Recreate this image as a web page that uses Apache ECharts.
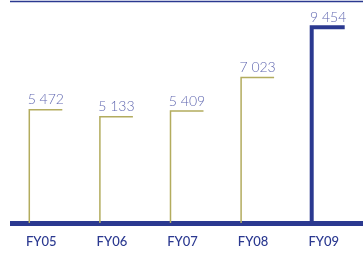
<!DOCTYPE html>
<html><head><meta charset="utf-8">
<script src="https://cdn.jsdelivr.net/npm/echarts@6/dist/echarts.min.js"></script>
<style>html,body{margin:0;padding:0;background:#fff}#c{width:363px;height:253px}</style>
</head><body><div id="c"></div>
<script>
const categories = ['FY05', 'FY06', 'FY07', 'FY08', 'FY09'];
const values = [5472, 5133, 5409, 7023, 9454];
const valueLabels = ['5 472', '5 133', '5 409', '7 023', '9 454'];

const NAVY = '#2b3990';
const OLIVE = '#b3ac5e';
const LABEL = '#6067b0';

const chart = echarts.init(document.getElementById('c'), null, {renderer: 'canvas'});
chart.setOption({
  animation: false,
  grid: {left: 10, right: 0, top: 16, bottom: 30},
  xAxis: {
    type: 'category', data: categories, offset: 2.5,
    axisLine: {lineStyle: {color: NAVY, width: 5, cap: 'butt'}},
    axisTick: {show: false},
    axisLabel: {color: NAVY, fontFamily: 'Lato', fontWeight: 500, fontSize: 13, margin: 10, padding: [0, 8, 0, 0]}
  },
  yAxis: {type: 'value', min: 0, max: 10000, show: false, splitLine: {show: false}},
  graphic: [{type: 'line', shape: {x1: 10, y1: 1.5, x2: 363, y2: 1.5}, style: {stroke: NAVY, lineWidth: 1.5}}],
  series: [{
    type: 'custom',
    data: values.map((v, i) => [i, v]),
    renderItem: function (params, api) {
      const i = api.value(0), v = api.value(1);
      const top = api.coord([i, v]);
      const bot = api.coord([i, 0]);
      const last = i === values.length - 1;
      const x = top[0] - 16;
      const w = last ? 4 : 1.5;
      const len = 33;
      return {
        type: 'group',
        children: [
          {type: 'polyline', shape: {points: [[x, bot[1]], [x, top[1]], [x + len, top[1]]]},
           style: {stroke: last ? NAVY : OLIVE, lineWidth: w, fill: null}},
          {type: 'text', style: {text: valueLabels[i], x: x + len / 2, y: top[1] - 3,
            align: 'center', verticalAlign: 'bottom', fill: LABEL,
            font: '300 14px Lato'}}
        ]
      };
    }
  }]
});
</script></body></html>
